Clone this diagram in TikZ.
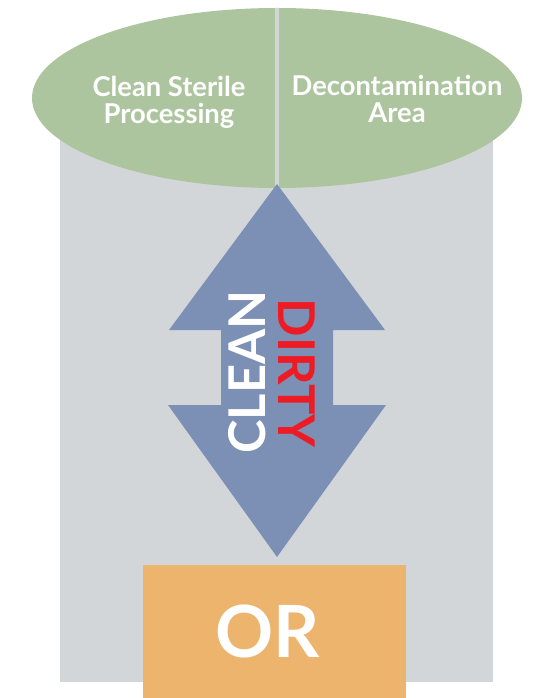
\documentclass[tikz,border=0pt]{standalone}
\usepackage{fontspec}
\setmainfont{Lato}
\usetikzlibrary{positioning}
\definecolor{wallgray}{HTML}{D3D6D9}
\definecolor{areagreen}{HTML}{ADC59E}
\definecolor{flowblue}{HTML}{7C8FB5}
\definecolor{dirtyred}{HTML}{ED1C24}
\definecolor{orfill}{HTML}{EDB46E}
\tikzstyle{area}=[
text=white,
font=\bfseries\fontsize{20.5}{20}\selectfont,
align=center,
inner sep=0pt
]
\tikzstyle{flow} = [font=\bfseries\fontsize{38}{38}\selectfont,inner sep=0pt]
\tikzstyle{room} = [text=white,font=\bfseries\fontsize{54}{54}\selectfont,inner sep=0pt]

\begin{document}
\begin{tikzpicture}[x=0.75pt,y=-0.75pt]
			\useasboundingbox (0,0) rectangle (540,698);
			
			% back wall and the two areas
			\fill[wallgray] (60,98) rectangle (493,682);
			\fill[areagreen] (277,98) ellipse [x radius=245, y radius=90];
			\draw[wallgray,line width=3.4pt] (277,8) -- (277,188);
			
			\node[area]	(csp)	at (169,102) {Clean Sterile\\Processing};
			\node[area]	(deco)	at (397,99) {Decontamination\\Area};
			
			% two way flow
			\fill[flowblue] (277,184) -- (385,330) -- (333,330) -- (333,405)
			-- (386,405) -- (277,557) -- (168,405) -- (221,405)
			-- (221,330) -- (169,330) -- cycle;
			
			\node[flow,text=white,rotate=90]		(clean)	at (247,372) {CLEAN};
			\node[flow,text=dirtyred,rotate=-90]	(dirty)	at (297,373) {DIRTY};
			
			% operating room
			\fill[orfill] (143,565) rectangle (406,698);
			\node[room]	(or)	at (268,631) {OR};
			
			\end{tikzpicture}
\end{document}
